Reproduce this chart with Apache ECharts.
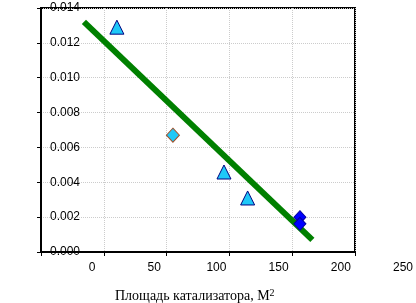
<!DOCTYPE html>
<html>
<head>
<meta charset="utf-8">
<script src="https://cdn.jsdelivr.net/npm/echarts@6/dist/echarts.min.js"></script>
<style>html,body{margin:0;padding:0;background:#fff}#c{width:416px;height:303px}</style>
</head>
<body>
<div id="c"></div>
<script>
// ---- data ----
var xTickLabels = [0, 50, 100, 150, 200, 250];
var yTicks = [0, 0.002, 0.004, 0.006, 0.008, 0.010, 0.012, 0.014];
var trianglePoints = [[20, 0.0129], [106, 0.00459], [125, 0.0031]];
var cyanDiamondPoints = [[65, 0.0067]];
var blueDiamondPoints = [[167, 0.0020], [167, 0.00162]];
var trendLine = [[-6.5, 0.0132], [177, 0.0007]];
var xTitle = 'Площадь катализатора, М';
var xTitleSup = '2';

var chart = echarts.init(document.getElementById('c'), null, {renderer: 'canvas'});
var font = 'Liberation Sans, Arial, sans-serif';
var serif = 'Liberation Serif, Times New Roman, serif';
var gridLine = {show: true, lineStyle: {color: '#cccccc', type: 'dotted', width: 1}};
var option = {
  animation: false,
  backgroundColor: '#fff',
  title: {
    text: xTitle + '{sup|' + xTitleSup + '}', left: 115, top: 288, padding: 0,
    textStyle: {fontFamily: serif, fontSize: 14, fontWeight: 'normal', color: '#000',
      rich: {sup: {fontFamily: serif, fontSize: 10, color: '#000', padding: [0, 0, 7, 0]}}}
  },
  grid: [
    {left: 41, right: 61, top: 8, bottom: 51, containLabel: false, show: true, borderColor: '#000', borderWidth: 2, backgroundColor: 'transparent'},
    {left: 92, width: 311, top: 8, bottom: 51, containLabel: false}
  ],
  xAxis: [
    {type: 'value', gridIndex: 0, min: 0, max: 5, interval: 1,
     axisLine: {show: true, onZero: false, lineStyle: {color: '#000', width: 2}},
     axisTick: {show: true, length: 4, lineStyle: {color: '#000'}},
     axisLabel: {show: false}, splitLine: gridLine},
    {type: 'value', gridIndex: 1, min: xTickLabels[0], max: xTickLabels[xTickLabels.length - 1], interval: 50,
     axisLine: {show: false}, axisTick: {show: false}, splitLine: {show: false},
     axisLabel: {show: true, margin: 10, color: '#000', fontSize: 12, fontFamily: font, showMaxLabel: true, showMinLabel: true}},
    {type: 'value', gridIndex: 0, show: false, min: -40.96, max: 211.24,
     axisLine: {show: false}, axisTick: {show: false}, axisLabel: {show: false}, splitLine: {show: false}}
  ],
  yAxis: [
    {type: 'value', gridIndex: 0, min: yTicks[0], max: yTicks[yTicks.length - 1], interval: 0.002,
     axisLine: {show: true, onZero: false, lineStyle: {color: '#000', width: 2}},
     axisTick: {show: true, length: 4, lineStyle: {color: '#000'}},
     axisLabel: {show: true, inside: true, margin: 9, color: '#000', fontSize: 12, fontFamily: font,
       formatter: function (v) { return v.toFixed(3); }},
     splitLine: gridLine},
    {type: 'value', gridIndex: 1, show: false, min: 0, max: 0.014,
     axisLine: {show: false}, axisTick: {show: false}, axisLabel: {show: false}, splitLine: {show: false}}
  ],
  series: [
    {type: 'line', xAxisIndex: 2, yAxisIndex: 0, data: trendLine, showSymbol: false, symbol: 'none',
     lineStyle: {color: '#008000', width: 6, cap: 'butt'}, z: 2, silent: true},
    {type: 'scatter', xAxisIndex: 2, yAxisIndex: 0, data: trianglePoints, symbol: 'triangle', symbolSize: [14, 14],
     itemStyle: {color: '#1ec8f8', borderColor: '#000080', borderWidth: 1, opacity: 1}, z: 3},
    {type: 'scatter', xAxisIndex: 2, yAxisIndex: 0, data: cyanDiamondPoints, symbol: 'diamond', symbolSize: [13, 14],
     itemStyle: {color: '#1ec8f8', borderColor: '#a0522d', borderWidth: 1, opacity: 1}, z: 3},
    {type: 'scatter', xAxisIndex: 2, yAxisIndex: 0, data: blueDiamondPoints, symbol: 'diamond', symbolSize: [12, 13],
     itemStyle: {color: '#0000ff', borderColor: '#0000a0', borderWidth: 1, opacity: 1}, z: 3}
  ]
};
chart.setOption(option);
</script>
</body>
</html>
